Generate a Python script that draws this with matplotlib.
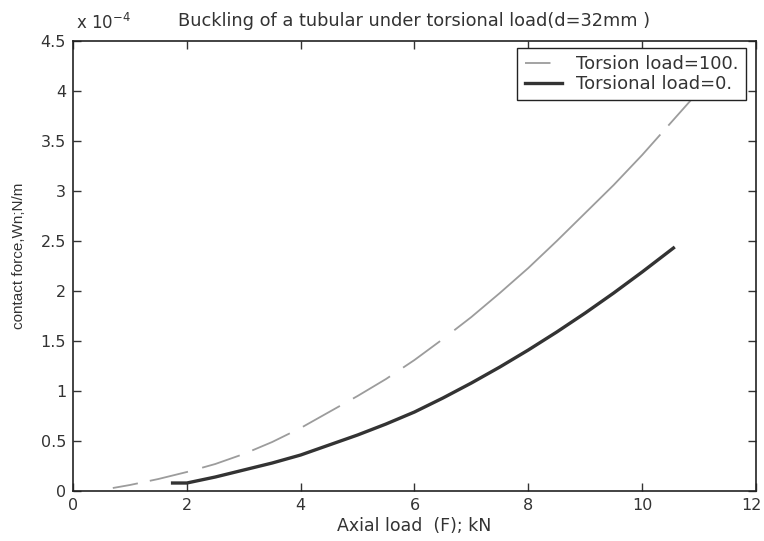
import matplotlib
matplotlib.use("Agg")
import matplotlib.pyplot as plt
import matplotlib.transforms as mtransforms
import numpy as np

# Data (contact force in units of 1e-4 N/m)
axial_t100 = [0.70, 1.0, 1.5, 2.0, 2.5, 3.0, 3.5, 4.0, 4.5, 5.0, 5.5, 6.0, 6.5, 7.0,
              7.5, 8.0, 8.5, 9.0, 9.5, 10.0, 10.5, 11.0]
force_t100 = [0.03, 0.06, 0.12, 0.19, 0.27, 0.37, 0.49, 0.63, 0.79, 0.95, 1.12, 1.31,
              1.52, 1.74, 1.98, 2.23, 2.50, 2.78, 3.06, 3.36, 3.68, 4.00]
axial_t0 = [1.75, 2.0, 2.5, 3.0, 3.5, 4.0, 4.5, 5.0, 5.5, 6.0, 6.5, 7.0, 7.5, 8.0,
            8.5, 9.0, 9.5, 10.0, 10.55]
force_t0 = [0.08, 0.08, 0.14, 0.21, 0.28, 0.36, 0.46, 0.56, 0.67, 0.79, 0.93, 1.08,
            1.24, 1.41, 1.59, 1.78, 1.98, 2.19, 2.43]

xticks = [0, 2, 4, 6, 8, 10, 12]
yticks = [0, 0.5, 1, 1.5, 2, 2.5, 3, 3.5, 4, 4.5]
ytick_labels = ["0", "0.5", "1", "1.5", "2", "2.5", "3", "3.5", "4", "4.5"]

# style: axial positions where the scanned dashed line switches off/on
dash_breaks = [1.14, 1.35, 2.02, 2.27, 2.93, 3.15, 3.81, 4.04, 4.69, 4.92,
               5.57, 5.80, 6.45, 6.70, 10.32, 10.46]

plt.rcParams['font.family'] = ['DejaVu Sans']
plt.rcParams['lines.scale_dashes'] = False
txt = '#333333'

fig = plt.figure(figsize=(7.64, 5.41), dpi=100)
ax = fig.add_axes([0.0955, 0.0924, 0.894, 0.8318])
ax.set_xlim(0, 12)
ax.set_ylim(0, 4.5)

# dash pattern (in points) along the drawn path, from the x breaks
fine_x = np.union1d(np.linspace(axial_t100[0], axial_t100[-1], 4000), axial_t100)
fine_y = np.interp(fine_x, axial_t100, force_t100)
disp = ax.transData.transform(np.column_stack([fine_x, fine_y]))
seg = np.hypot(np.diff(disp[:, 0]), np.diff(disp[:, 1]))
arc = np.concatenate([[0], np.cumsum(seg)]) * 72.0 / fig.dpi
bps = [0.0] + [float(np.interp(b, fine_x, arc)) for b in dash_breaks] + [arc[-1] + 50]
pattern = [bps[i + 1] - bps[i] for i in range(len(bps) - 1)]
pattern.append(5.0)

l1, = ax.plot(axial_t100, force_t100, color='#9c9c9c', lw=1.3,
              dashes=pattern, label='Torsion load=100.')
l2, = ax.plot(axial_t0, force_t0, color='#333333', lw=2.4,
              label='Torsional load=0.')

ax.set_xticks(xticks)
ax.set_yticks(yticks)
ax.set_yticklabels(ytick_labels)
ax.tick_params(direction='in', top=True, right=True, labelsize=11.5,
               colors=txt, length=6, width=1, pad=5)
for s in ax.spines.values():
    s.set_color('#222222')
    s.set_linewidth(1.2)

# keep the last x tick label inside the canvas
last = ax.get_xticklabels()[-1]
last.set_transform(last.get_transform() +
                   mtransforms.ScaledTranslation(-3 / 72, 0, fig.dpi_scale_trans))

ax.set_xlabel('Axial load  (F); kN', fontsize=12.5, color=txt, labelpad=3)
ax.set_ylabel('contact force,Wn;N/m', fontsize=11, color=txt,
              family=['Liberation Sans', 'DejaVu Sans'])
ax.yaxis.set_label_coords(-0.069, 0.522)
ax.set_title('Buckling of a tubular under torsional load(d=32mm )',
             fontsize=12.8, color=txt, pad=11)
ax.text(0.004, 1.018, r'x 10$^{-4}$', transform=ax.transAxes, fontsize=12,
        color=txt, ha='left', va='bottom')

leg = ax.legend(handles=[l1, l2], loc='upper right', fontsize=13,
                fancybox=False, framealpha=1, edgecolor='#222222',
                borderpad=0.4, handlelength=2.1, handletextpad=0.75,
                labelspacing=0.1, bbox_to_anchor=(0.985, 0.984),
                borderaxespad=0)
leg.get_frame().set_linewidth(1.0)
for t in leg.get_texts():
    t.set_color(txt)

fig.savefig('out.png', dpi=100)
